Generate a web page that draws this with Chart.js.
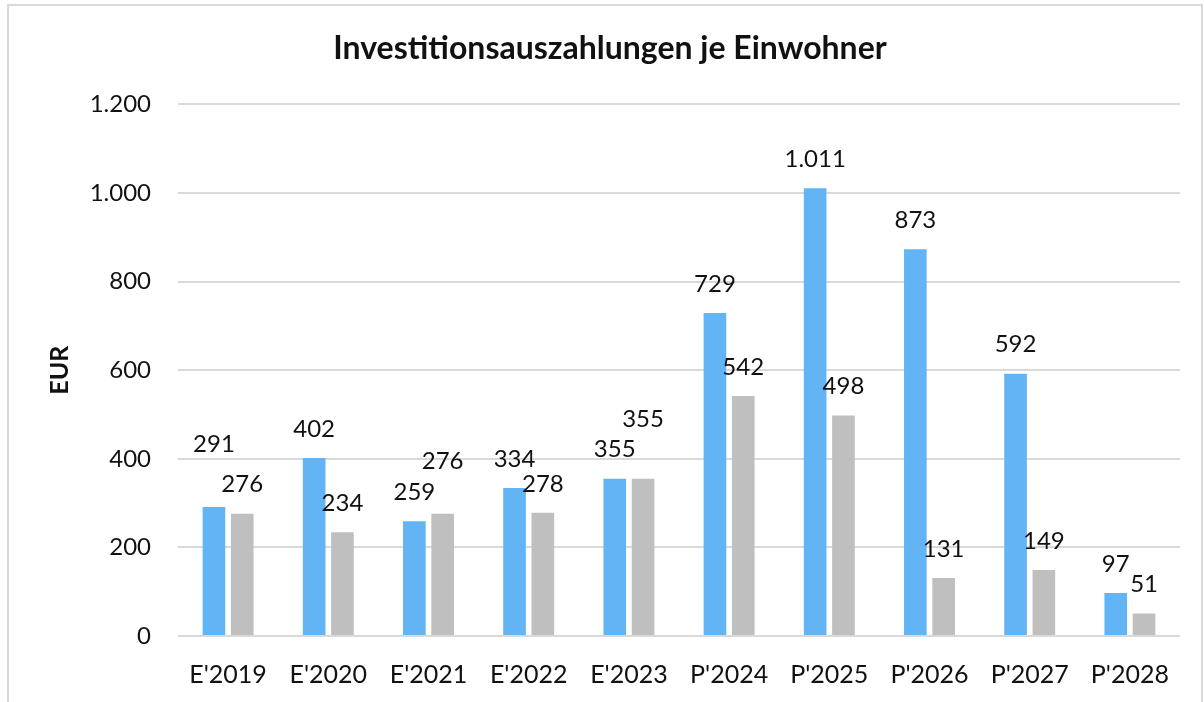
<!DOCTYPE html>
<html lang="de">
<head>
  <meta charset="UTF-8" />
  <title>Investitionsauszahlungen je Einwohner</title>
  <script src="https://cdn.jsdelivr.net/npm/chart.js"></script>
  <style>
    body {
      margin: 0;
      background: #ffffff;
      overflow: hidden;
    }
    .frame {
      position: absolute;
      left: 7px;
      top: 4px;
      width: 1192px;
      height: 740px;
      border: 2px solid #d9d9d9;
      pointer-events: none;
    }
    canvas {
      position: absolute;
      left: 0;
      top: 0;
    }
  </style>
</head>
<body>
  <div class="frame"></div>
  <canvas id="invChart" width="1204" height="702"></canvas>

  <script>
    // Werte aus dem Diagramm
    const jahre = ["E'2019", "E'2020", "E'2021", "E'2022", "E'2023", "P'2024", "P'2025", "P'2026", "P'2027", "P'2028"];
    const reiheBlau = [291, 402, 259, 334, 355, 729, 1011, 873, 592, 97];
    const reiheGrau = [276, 234, 276, 278, 355, 542, 498, 131, 149, 51];

    // manuell verschobene Beschriftungen (Pixel zusätzlich nach oben)
    const extraBlau = [34, 0, 0, 0, 0, 0, 0, 0, 0, 0];
    const extraGrau = [0, 0, 23, 0, 30, 0, 0, 0, 0, 0];

    const schrift = 'Lato, "Noto Sans", sans-serif';

    function deZahl(v) {
      return String(v).replace(/\B(?=(\d{3})+(?!\d))/g, '.');
    }

    const wertLabels = {
      id: 'wertLabels',
      afterDatasetsDraw(chart) {
        const ctx = chart.ctx;
        ctx.save();
        ctx.font = '24px ' + schrift;
        ctx.fillStyle = '#111111';
        ctx.textAlign = 'center';
        ctx.textBaseline = 'middle';
        chart.data.datasets.forEach((ds, i) => {
          const extra = i === 0 ? extraBlau : extraGrau;
          chart.getDatasetMeta(i).data.forEach((bar, j) => {
            ctx.fillText(deZahl(ds.data[j]), bar.x, bar.y - 29 - extra[j]);
          });
        });
        ctx.restore();
      }
    };

    const ctx = document.getElementById('invChart').getContext('2d');
    new Chart(ctx, {
      type: 'bar',
      data: {
        labels: jahre,
        datasets: [
          { data: reiheBlau, backgroundColor: '#63b4f5', barPercentage: 0.8, categoryPercentage: 0.565 },
          { data: reiheGrau, backgroundColor: '#bfbfbf', barPercentage: 0.8, categoryPercentage: 0.565 }
        ]
      },
      options: {
        responsive: false,
        animation: false,
        layout: { padding: { left: 40, right: 24, top: 10, bottom: 0 } },
        plugins: {
          legend: { display: false },
          tooltip: { enabled: false },
          title: {
            display: true,
            text: 'Investitionsauszahlungen je Einwohner',
            color: '#111111',
            font: { family: schrift, size: 32, weight: 'bold' },
            padding: { top: 19, bottom: 37 }
          }
        },
        scales: {
          x: {
            grid: { display: false },
            border: { display: false },
            ticks: {
              color: '#111111',
              font: { family: schrift, size: 25 },
              padding: 16,
              maxRotation: 0
            },
            afterFit(scale) { scale.height = 66; }
          },
          y: {
            min: 0,
            max: 1200,
            border: { display: false },
            grid: { color: '#d9d9d9', lineWidth: 2, drawTicks: false },
            ticks: {
              stepSize: 200,
              color: '#111111',
              font: { family: schrift, size: 24 },
              padding: 27,
              callback: v => deZahl(v)
            },
            title: {
              display: true,
              text: 'EUR',
              color: '#111111',
              font: { family: schrift, size: 25, weight: 'bold' },
              padding: { top: 5, bottom: 0 }
            },
            afterFit(scale) { scale.width = 138; }
          }
        }
      },
      plugins: [wertLabels]
    });
  </script>
</body>
</html>
